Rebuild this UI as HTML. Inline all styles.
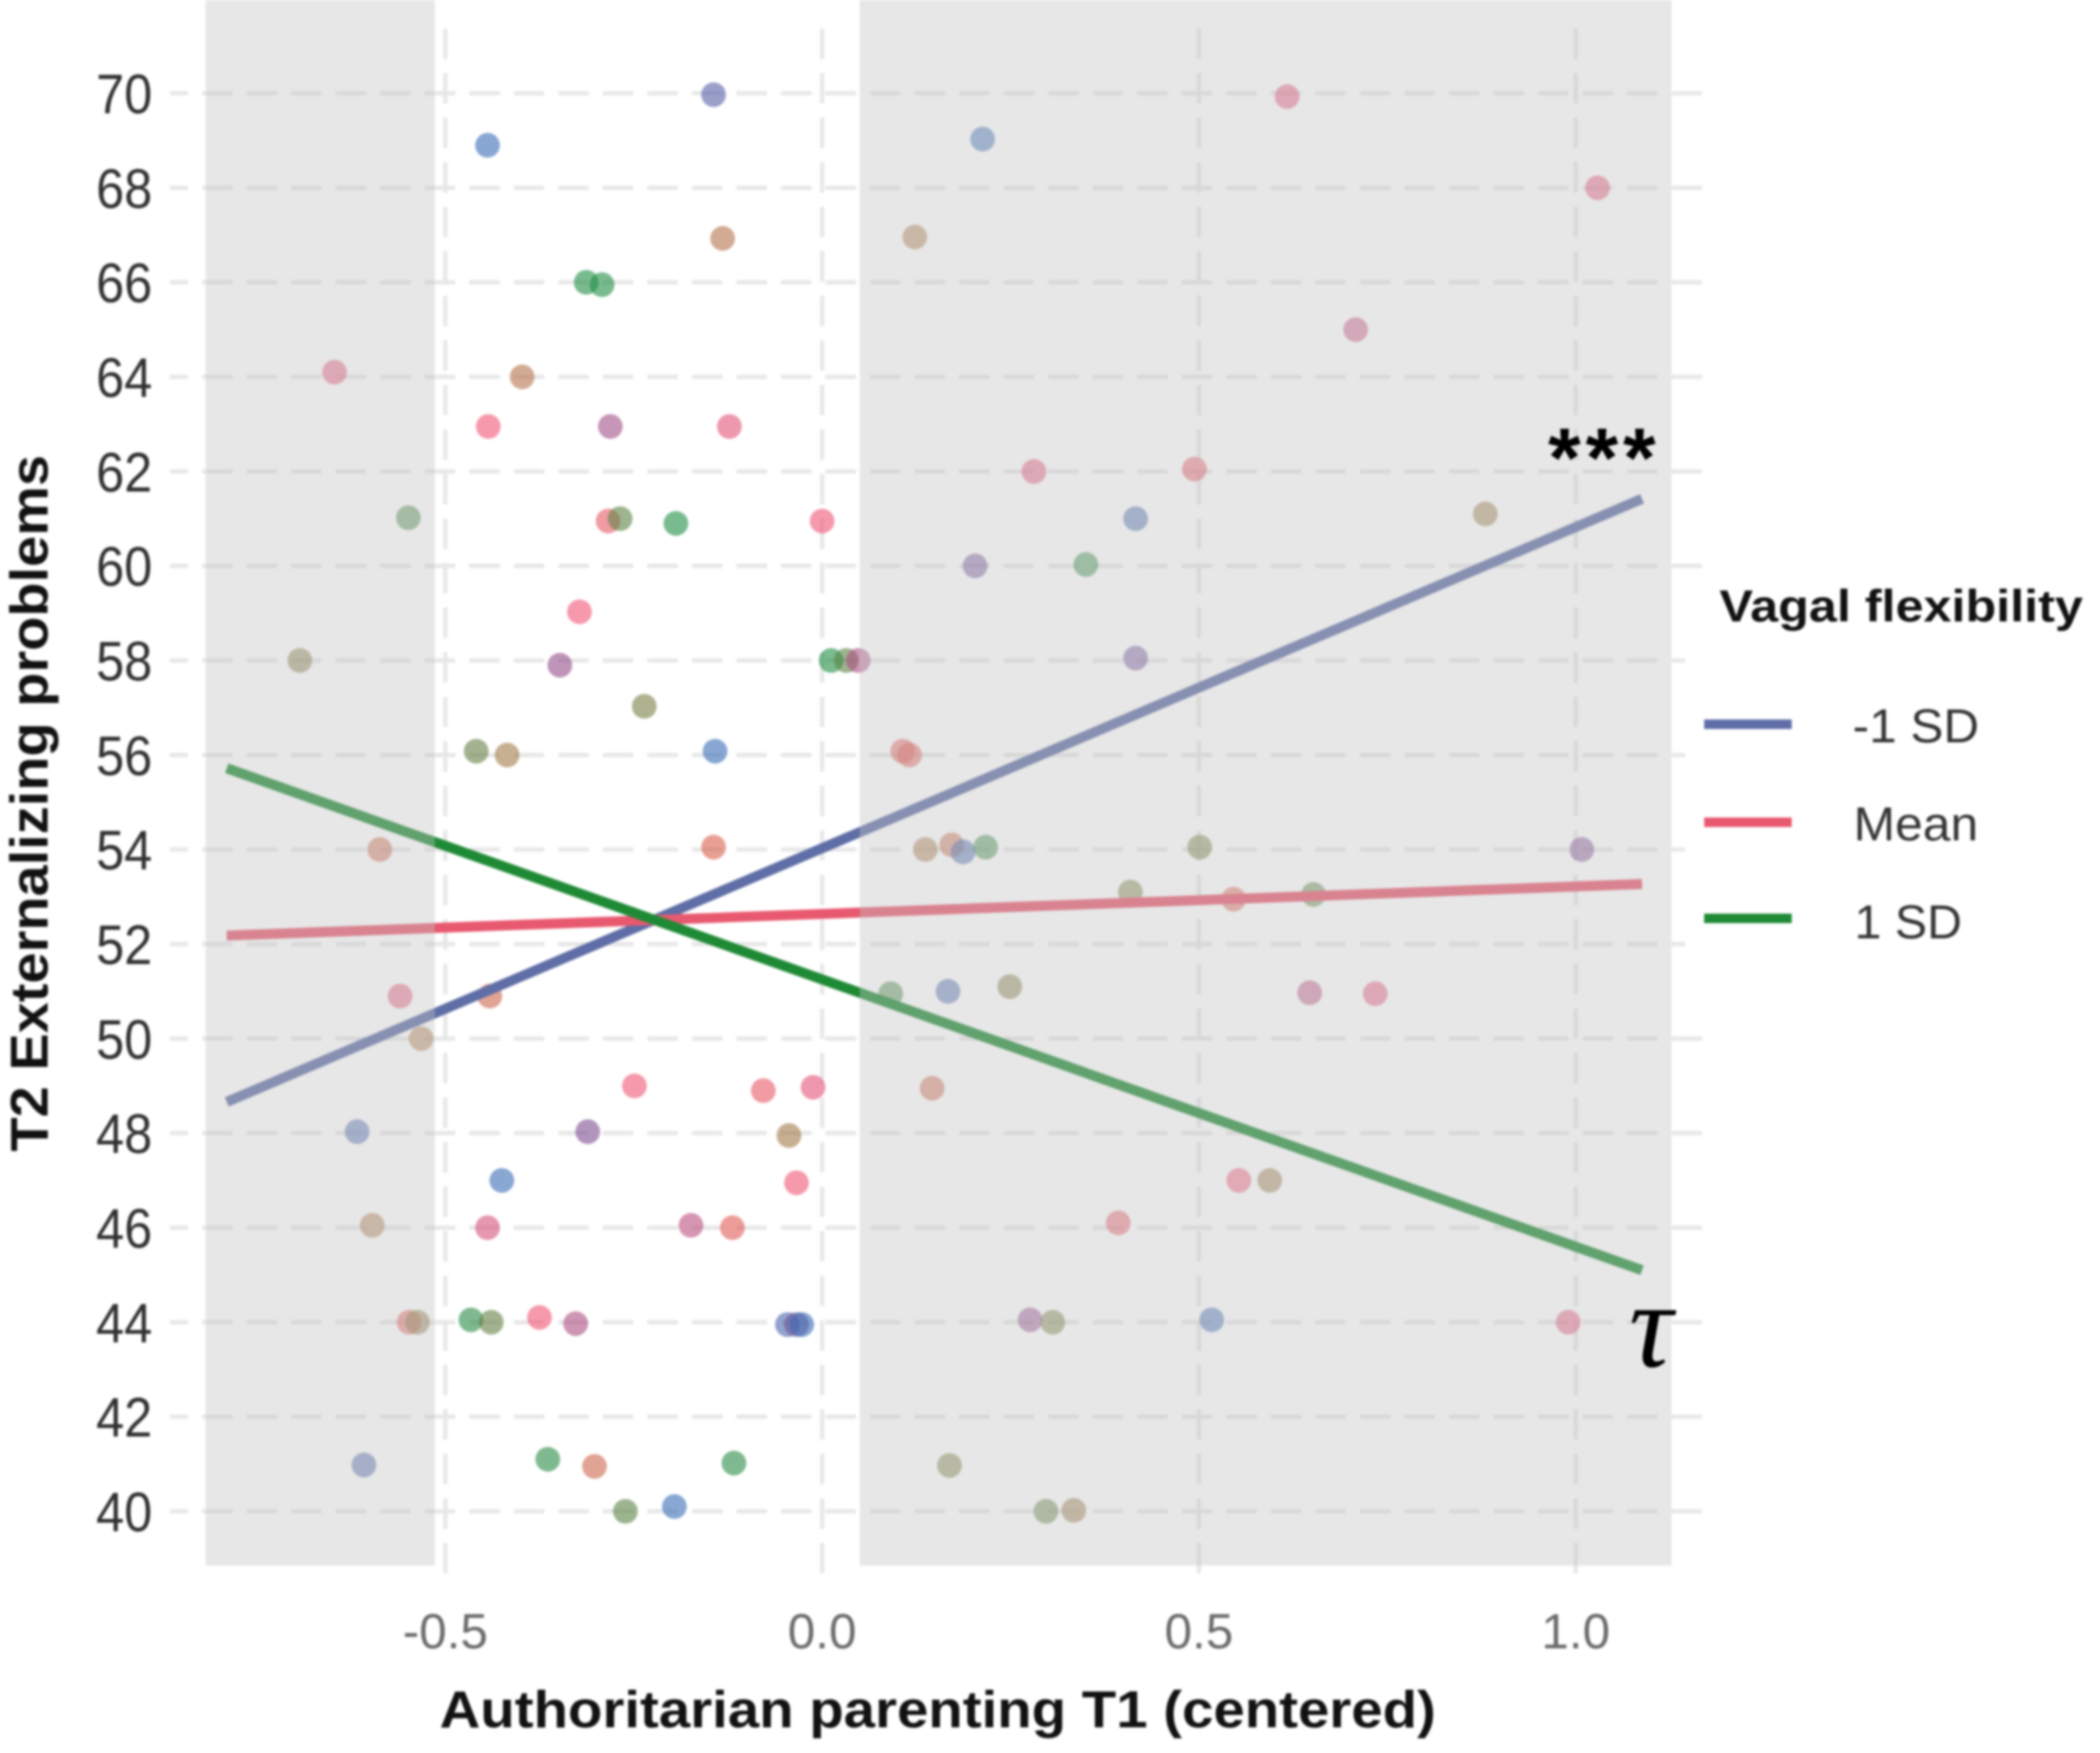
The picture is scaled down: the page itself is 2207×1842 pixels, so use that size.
<!DOCTYPE html>
<html lang="en">
<head>
<meta charset="utf-8">
<title>Authoritarian parenting and externalizing problems</title>
<style>
html,body{margin:0;padding:0;background:#fff;width:2207px;height:1842px;overflow:hidden}
svg{display:block;filter:blur(1.2px)}
text{font-family:"Liberation Sans",sans-serif}
</style>
</head>
<body>
<svg id="chart" xmlns="http://www.w3.org/2000/svg" width="2207" height="1842" viewBox="0 0 2207 1842">
  <rect x="0" y="0" width="2207" height="1842" fill="#ffffff"/>
  <g id="grid"></g>
  <rect x="1771" y="600" width="436" height="420" fill="#ffffff"/>
  <g id="points"></g>
  <g id="lines"></g>
  <g id="shades"></g>
  <g id="yticks"></g>
  <g id="xticks"></g>

  <text x="462" y="1815" font-size="55" font-weight="700" fill="#111" textLength="1047" lengthAdjust="spacingAndGlyphs">Authoritarian parenting T1 (centered)</text>
  <text transform="translate(50,1210) rotate(-90)" x="0" y="0" font-size="56" font-weight="700" fill="#111" textLength="732" lengthAdjust="spacingAndGlyphs">T2 Externalizing problems</text>

  <text x="1627" y="511" font-size="88" font-weight="700" fill="#000" textLength="113" lengthAdjust="spacing">***</text>
  <text x="1712" y="1436" font-size="128" font-style="italic" font-family="Liberation Serif" style="font-family:'Liberation Serif',serif" fill="#000">τ</text>

  <g>
    <text x="1807" y="653" font-size="47" font-weight="700" fill="#111" textLength="382" lengthAdjust="spacingAndGlyphs">Vagal flexibility</text>
    <rect x="1791" y="756" width="92" height="10" fill="#5f6ea6"/>
    <text x="1947" y="780" font-size="50" fill="#333" textLength="133" lengthAdjust="spacingAndGlyphs">-1 SD</text>
    <rect x="1791" y="859" width="92" height="10" fill="#e8596f"/>
    <text x="1948" y="883" font-size="50" fill="#333" textLength="131" lengthAdjust="spacingAndGlyphs">Mean</text>
    <rect x="1791" y="960" width="92" height="10" fill="#1f8a35"/>
    <text x="1949" y="986" font-size="50" fill="#333" textLength="113" lengthAdjust="spacingAndGlyphs">1 SD</text>
  </g>
</svg>
<script>
var yTickValues = [40,42,44,46,48,50,52,54,56,58,60,62,64,66,68,70];
var xTickValues = [-0.5,0,0.5,1];
var xTickLabels = ["-0.5","0.0","0.5","1.0"];

var lineX = [-0.79,1.088];
var lineLowSD = [48.66,61.42];
var lineMean = [52.18,53.27];
var lineHighSD = [55.72,45.1];

var shadeStartX = [-0.818,0.05];
var shadeEndX = [-0.514,1.127];

var pointX = [-0.144,-0.444,0.213,0.617,1.029,-0.132,0.123,-0.313,-0.292,0.708,-0.647,-0.398,-0.443,-0.281,-0.123,0.281,0.494,-0.549,-0.284,-0.268,-0.194,0,0.416,0.88,0.203,0.35,-0.322,-0.693,-0.348,0.012,0.032,0.048,0.416,-0.236,-0.459,-0.418,-0.142,0.107,0.116,-0.587,-0.144,0.137,0.172,0.187,0.217,0.501,1.008,0.409,0.546,0.652,-0.56,-0.441,-0.532,0.091,0.167,0.249,0.647,0.734,-0.249,-0.078,-0.012,0.146,-0.617,-0.311,-0.044,-0.425,-0.034,0.553,0.594,-0.597,-0.444,-0.174,-0.119,0.393,-0.548,-0.537,-0.466,-0.439,-0.375,-0.327,-0.046,-0.034,-0.027,0.276,0.306,0.517,0.99,-0.608,-0.364,-0.302,-0.117,0.169,-0.261,-0.196,0.297,0.334];
var pointY = [69.97,68.9,69.03,69.93,68,66.93,66.96,66,65.95,65,64.1,64,62.95,62.95,62.95,62,62.05,61.02,60.95,61,60.9,60.95,61,61.1,60,60.03,59.03,58,57.9,58,58,58,58.05,57.03,56.08,56,56.08,56.08,56,54,54.05,54,54.1,53.95,54.05,54.05,54,53.1,52.95,53.05,50.9,50.9,50,50.95,51,51.1,50.97,50.95,49,48.9,48.97,48.95,48.03,48.03,47.95,47,46.95,47,47,46.05,46,46.05,46,46.1,44,44,44.05,44,44.1,43.97,43.95,43.95,43.95,44.05,44,44.05,44,40.98,41.1,40.95,41.02,40.97,40,40.1,40,40.02];
var pointFlexibility = [-0.8,-1,-1,-0.1,-0.1,0.25,0.3,1,1,-0.2,-0.1,0.25,-0.05,-0.35,-0.1,-0.1,0,0.8,0,0.7,1,-0.05,-0.9,0.4,-0.6,0.9,-0.05,0.5,-0.4,1,0.7,-0.3,-0.6,0.55,0.65,0.35,-1,0.05,0.05,0.15,0.1,0.3,0.2,-0.9,0.85,0.55,-0.5,0.55,0.1,0.7,-0.1,0.15,0.3,0.8,-0.9,0.5,-0.25,-0.1,-0.05,0,-0.1,0.15,-0.9,-0.5,0.35,-1,-0.05,-0.05,0.4,0.3,-0.15,-0.25,0.05,0,0.05,0.45,0.95,0.65,-0.05,-0.3,-0.9,-0.6,-1,-0.4,0.55,-0.95,-0.1,-0.85,0.95,0.15,0.95,0.55,0.7,-1,0.65,0.4];

var colorStops = [-1,-0.45,-0.05,0.08,0.3,0.55,1];
var colorReds = [58,134,240,220,171,122,31];
var colorGreens = [108,75,85,93,122,126,141];
var colorBlues = [181,141,117,76,76,68,68];

var NS = "http://www.w3.org/2000/svg";
function xScale(v){ return 864 + 792 * v; }
function yScale(v){ return 98 + (70 - v) * (1490 / 30); }
function flexColor(m){
  var i = 0;
  while (i < colorStops.length - 2 && m > colorStops[i + 1]) i++;
  var t = (m - colorStops[i]) / (colorStops[i + 1] - colorStops[i]);
  t = Math.max(0, Math.min(1, t));
  var r = Math.round(colorReds[i] + (colorReds[i + 1] - colorReds[i]) * t);
  var g = Math.round(colorGreens[i] + (colorGreens[i + 1] - colorGreens[i]) * t);
  var b = Math.round(colorBlues[i] + (colorBlues[i + 1] - colorBlues[i]) * t);
  return "rgb(" + r + "," + g + "," + b + ")";
}
function make(tag, attrs, parent){
  var el = document.createElementNS(NS, tag);
  for (var k in attrs) el.setAttribute(k, attrs[k]);
  parent.appendChild(el);
  return el;
}

var gridGroup = document.getElementById("grid");
yTickValues.forEach(function(v){
  var el = make("line", {x1:178.6, x2:1790, y1:yScale(v), y2:yScale(v), stroke:"#e7e7e7", "stroke-width":4.5, "stroke-dasharray":"32 14.8", "stroke-dashoffset":"13"}, gridGroup);
  
  
});
xTickValues.forEach(function(v){
  var el = make("line", {x1:xScale(v), x2:xScale(v), y1:30, y2:1664, stroke:"#e7e7e7", "stroke-width":4.5, "stroke-dasharray":"32 14.8"}, gridGroup);
  
  
});

var pointGroup = document.getElementById("points");
pointX.forEach(function(px, i){
  var el = make("circle", {cx:xScale(px), cy:yScale(pointY[i]), r:13, fill:flexColor(pointFlexibility[i]), "fill-opacity":0.6}, pointGroup);
  
  
});

var lineGroup = document.getElementById("lines");
function drawLine(values, color, name){
  var el = make("line", {x1:xScale(lineX[0]), x2:xScale(lineX[1]), y1:yScale(values[0]), y2:yScale(values[1]), stroke:color, "stroke-width":10.5}, lineGroup);
  
  
}
drawLine(lineLowSD, "#5f6ea6", "line-low-sd");
drawLine(lineMean, "#e8596f", "line-mean");
drawLine(lineHighSD, "#1f8a35", "line-high-sd");

var shadeGroup = document.getElementById("shades");
shadeStartX.forEach(function(s, i){
  var x0 = xScale(s);
  var x1 = xScale(shadeEndX[i]);
  var el = make("rect", {x:x0, y:0, width:x1 - x0, height:1645, fill:"rgb(194,194,194)", "fill-opacity":0.4}, shadeGroup);
  
  
});

var yTickGroup = document.getElementById("yticks");
yTickValues.forEach(function(v){
  var el = make("text", {x:101, y:yScale(v) + 21, "font-size":58, fill:"#303030", textLength:59, lengthAdjust:"spacingAndGlyphs"}, yTickGroup);
  
  
  el.textContent = String(v);
});

var xTickGroup = document.getElementById("xticks");
xTickValues.forEach(function(v, i){
  var el = make("text", {x:xScale(v), y:1732, "font-size":52, fill:"#6a6a6a", "text-anchor":"middle"}, xTickGroup);
  
  
  el.textContent = xTickLabels[i];
});
</script>
</body>
</html>
